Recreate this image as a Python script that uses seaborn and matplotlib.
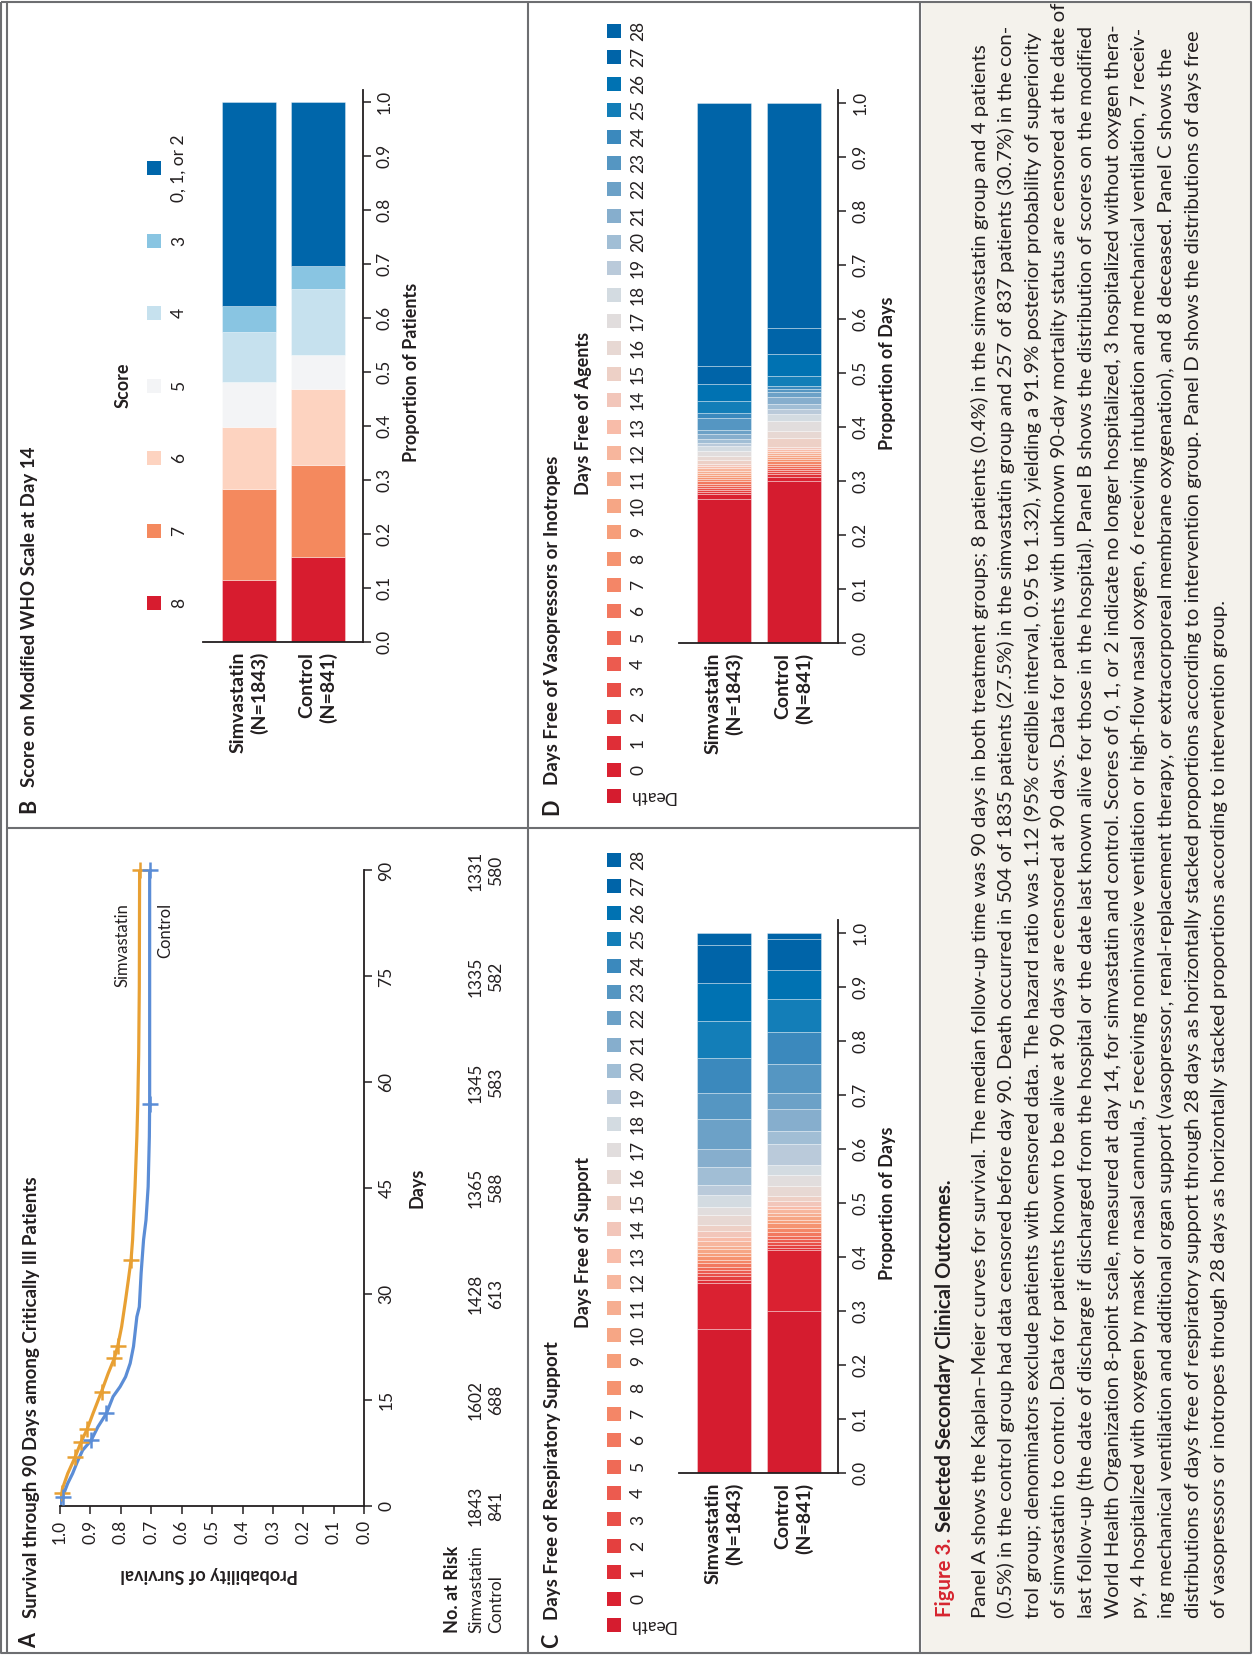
import numpy as np
import seaborn as sns
import matplotlib.pyplot as plt
from matplotlib.patches import Rectangle

# ---------------- data ----------------
groups = ["Simvastatin\n(N=1843)", "Control\n(N=841)"]

# A: Kaplan-Meier survival
sim_days = [0, 2.5, 4.6, 6.9, 9.1, 10.9, 13.1, 16.2, 18.8, 20.9, 22.6, 25.4, 29.2, 32.0,
            34.9, 37.7, 40.5, 45.2, 52.3, 57, 64, 73.5, 90]
sim_surv = [1.0, 0.991, 0.974, 0.950, 0.930, 0.910, 0.891, 0.863, 0.841, 0.821, 0.810, 0.797,
            0.784, 0.775, 0.766, 0.761, 0.758, 0.753, 0.747, 0.744, 0.741, 0.739, 0.738]
ctl_days = [0, 1.3, 3.2, 4.6, 6.2, 7.9, 9.3, 11.2, 13.1, 15.5, 16.9, 18.3, 20.2, 22.6, 26.8,
            28.2, 33.0, 37.7, 40.5, 45.2, 52.3, 57, 73.5, 90]
ctl_surv = [1.0, 0.991, 0.974, 0.958, 0.943, 0.925, 0.897, 0.875, 0.847, 0.825, 0.802, 0.784,
            0.769, 0.758, 0.747, 0.739, 0.733, 0.725, 0.717, 0.710, 0.706, 0.705, 0.705, 0.705]
sim_censor = [1.8, 6.9, 9.1, 10.9, 16.2, 20.9, 22.6, 34.9, 90]
ctl_censor = [1.3, 9.3, 13.1, 57, 90]
risk_days = [0, 15, 30, 45, 60, 75, 90]
risk_sim = [1843, 1602, 1428, 1365, 1345, 1335, 1331]
risk_ctl = [841, 688, 613, 588, 583, 582, 580]

# B: WHO scale at day 14 (bottom to top)
who_scores = ["8", "7", "6", "5", "4", "3", "0, 1, or 2"]
who_sim = [0.115, 0.168, 0.115, 0.083, 0.093, 0.048, 0.378]
who_ctl = [0.157, 0.171, 0.140, 0.063, 0.123, 0.042, 0.304]
who_colors = ["#D71C2F", "#F4895E", "#FDD3C0", "#F3F4F6", "#C6E1EE", "#89C5E2", "#0066AA"]

# C and D: days free, Death then 0..28
day_levels = ["Death"] + [str(d) for d in range(29)]
resp_sim = [0.266, 0.086, 0.006, 0.006, 0.006, 0.006, 0.006, 0.006, 0.007, 0.006, 0.006,
            0.007, 0.007, 0.008, 0.008, 0.010, 0.012, 0.019, 0.015, 0.022, 0.018, 0.034,
            0.033, 0.055, 0.048, 0.065, 0.068, 0.071, 0.071, 0.022]
resp_ctl = [0.300, 0.113, 0.004, 0.005, 0.005, 0.006, 0.006, 0.007, 0.008, 0.008, 0.007,
            0.006, 0.006, 0.007, 0.007, 0.008, 0.009, 0.020, 0.019, 0.019, 0.039, 0.024,
            0.040, 0.030, 0.054, 0.059, 0.062, 0.053, 0.058, 0.011]
vaso_sim = [0.266, 0.009, 0.004, 0.004, 0.004, 0.004, 0.004, 0.004, 0.004, 0.004, 0.004,
            0.004, 0.004, 0.004, 0.004, 0.004, 0.007, 0.009, 0.009, 0.009, 0.006, 0.006,
            0.009, 0.009, 0.021, 0.009, 0.023, 0.031, 0.034, 0.487]
vaso_ctl = [0.299, 0.009, 0.004, 0.004, 0.004, 0.004, 0.004, 0.004, 0.004, 0.004, 0.004,
            0.004, 0.003, 0.004, 0.004, 0.003, 0.018, 0.012, 0.018, 0.013, 0.010, 0.010,
            0.012, 0.009, 0.006, 0.006, 0.018, 0.040, 0.049, 0.417]
day_colors = ["#D51C2F", "#DA2131", "#DF2E37", "#E4403F", "#E94F48", "#EC5B4F", "#EF6A56",
              "#F2785F", "#F48667", "#F59370", "#F69E7A", "#F6A685", "#F6AE91", "#F7B69D",
              "#F8BCA9", "#F2C6BA", "#EDD0C6", "#E7D8D3", "#E1DDDD", "#D3DBE1", "#BACADA",
              "#A1BED5", "#86AECD", "#6CA1C7", "#5596C2", "#3B89BD", "#137EB8", "#0072B2",
              "#0064A8", "#0064A8"][:30]

caption_title = "Selected Secondary Clinical Outcomes."
caption_lines = [
    "Panel A shows the Kaplan\u2013Meier curves for survival. The median follow-up time was 90 days in both treatment groups; 8 patients (0.4%) in the simvastatin group and 4 patients",
    "(0.5%) in the control group had data censored before day 90. Death occurred in 504 of 1835 patients (27.5%) in the simvastatin group and 257 of 837 patients (30.7%) in the con-",
    "trol group; denominators exclude patients with censored data. The hazard ratio was 1.12 (95% credible interval, 0.95 to 1.32), yielding a 91.9% posterior probability of superiority",
    "of simvastatin to control. Data for patients known to be alive at 90 days are censored at 90 days. Data for patients with unknown 90-day mortality status are censored at the date of",
    "last follow-up (the date of discharge if discharged from the hospital or the date last known alive for those in the hospital). Panel B shows the distribution of scores on the modified",
    "World Health Organization 8-point scale, measured at day 14, for simvastatin and control. Scores of 0, 1, or 2 indicate no longer hospitalized, 3 hospitalized without oxygen thera-",
    "py, 4 hospitalized with oxygen by mask or nasal cannula, 5 receiving noninvasive ventilation or high-flow nasal oxygen, 6 receiving intubation and mechanical ventilation, 7 receiv-",
    "ing mechanical ventilation and additional organ support (vasopressor, renal-replacement therapy, or extracorporeal membrane oxygenation), and 8 deceased. Panel C shows the",
    "distributions of days free of respiratory support through 28 days as horizontally stacked proportions according to intervention group. Panel D shows the distributions of days free",
    "of vasopressors or inotropes through 28 days as horizontally stacked proportions according to intervention group.",
]

# ---------------- figure ----------------
sns.set_theme(style="ticks")
plt.rcParams["font.family"] = ["Lato", "DejaVu Sans"]
dark = "#231F20"
frame = "#6D6E71"
orange = "#E8A033"
blue = "#5B8DD6"

W, H = 1255, 1655
fig = plt.figure(figsize=(W / 100, H / 100), dpi=100)

# overlay axis in pixel coordinates (y down) for frame, legends and texts
ov = fig.add_axes([0, 0, 1, 1], zorder=0)
ov.set_xlim(0, W)
ov.set_ylim(H, 0)
ov.axis("off")


def px_axes(x0, y0, x1, y1):
    ax = fig.add_axes([x0 / W, 1 - y1 / H, (x1 - x0) / W, (y1 - y0) / H], zorder=2)
    ax.patch.set_alpha(0)
    return ax


def vtext(x, y, s, size, ha="left", va="center", weight="normal", color=dark, rot=90):
    return ov.text(x, y, s, rotation=rot, rotation_mode="anchor", ha=ha, va=va,
                   fontsize=size, fontweight=weight, color=color)


# caption background and frame
ov.add_patch(Rectangle((922, 3), 328, 1650, facecolor="#F4F2EC", edgecolor="none"))
fl = dict(color=frame, lw=1.5, solid_capstyle="butt")
ov.plot([1, 1251, 1251, 1, 1], [2, 2, 1653, 1653, 2], **fl)
ov.plot([7, 7], [2, 1653], **fl)
ov.plot([528, 528], [2, 1653], **fl)
ov.plot([920, 920], [2, 1653], **fl)
ov.plot([7, 920], [828, 828], **fl)

TICK = 12.5
LAB = 13


def style_prop_axis(ax, top, xl):
    ax.set_xlim(*xl)
    ax.set_ylim(0, top)
    ax.spines[["left", "top"]].set_visible(False)
    for s in ["right", "bottom"]:
        ax.spines[s].set_color(dark)
        ax.spines[s].set_linewidth(1.3)
    ax.yaxis.tick_right()
    ticks = np.round(np.arange(0, 1.01, 0.1), 1)
    ax.set_yticks(ticks)
    ax.set_yticklabels([f"{t:.1f}" for t in ticks], rotation=90, va="center")
    ax.tick_params(axis="y", length=6, width=1.1, pad=4, labelsize=TICK, colors=dark)
    ax.set_xticks([0, 1])
    ax.set_xticklabels(groups, rotation=90, ha="center", va="top", ma="right",
                       fontsize=14, fontweight="bold", color=dark, linespacing=1.25)
    ax.tick_params(axis="x", length=0, pad=7)
    ax.set_xlabel("")
    ax.set_ylabel("")
    ax.grid(False)


def stacked(ax, sim_vals, ctl_vals, colors, width):
    bottom = np.zeros(2)
    for s, c, col in zip(sim_vals, ctl_vals, colors):
        sns.barplot(x=groups, y=[s, c], bottom=bottom.copy(), color=col, saturation=1,
                    width=width, errorbar=None, edgecolor=(1, 1, 1, 0.4), linewidth=0.6,
                    ax=ax)
        bottom += np.array([s, c])


# ---------------- Panel A ----------------
axA = px_axes(59.8, 870.5, 364.4, 1506)
sns.lineplot(x=sim_surv, y=sim_days, sort=False, estimator=None, color=orange,
             linewidth=2.3, ax=axA)
sns.lineplot(x=ctl_surv, y=ctl_days, sort=False, estimator=None, color=blue,
             linewidth=2.3, ax=axA)
axA.scatter(np.interp(sim_censor, sim_days, sim_surv), sim_censor, marker="+", s=120,
            linewidths=1.8, color=orange, clip_on=False, zorder=3)
axA.scatter(np.interp(ctl_censor, ctl_days, ctl_surv), ctl_censor, marker="+", s=120,
            linewidths=1.8, color=blue, clip_on=False, zorder=4)
axA.set_xlim(1.0, 0.0)
axA.set_ylim(0, 90)
axA.spines[["left", "top"]].set_visible(False)
for s in ["right", "bottom"]:
    axA.spines[s].set_color(dark)
    axA.spines[s].set_linewidth(1.3)
axA.yaxis.tick_right()
axA.set_yticks(risk_days)
axA.set_yticklabels([str(d) for d in risk_days], rotation=90, va="center")
pt = np.round(np.arange(0, 1.01, 0.1), 1)
axA.set_xticks(pt)
axA.set_xticklabels([f"{t:.1f}" for t in pt], rotation=90, ha="center", va="top")
axA.tick_params(axis="both", length=6, width=1.1, pad=4, labelsize=TICK, colors=dark)
axA.set_xlabel("")
axA.set_ylabel("")
axA.grid(False)

day_px = (1506 - 870.5) / 90
vtext(123, 903, "Simvastatin", 12, ha="right")
vtext(165.6, 903, "Control", 12, ha="right")
vtext(417, 1188, "Days", LAB, ha="center", weight="bold")
vtext(209.6, 1574, "Probability of Survival", LAB, ha="center", weight="bold", rot=180)
vtext(452, 1633, "No. at Risk", LAB, weight="bold")
vtext(476, 1633, "Simvastatin", 12.5)
vtext(496, 1633, "Control", 12.5)
for d, a, b in zip(risk_days, risk_sim, risk_ctl):
    yy = 1506 - d * day_px
    vtext(476, yy, str(a), 12.5, ha="center")
    vtext(496, yy, str(b), 12.5, ha="center")
vtext(36.5, 1648, "A", 15.5, va="baseline", weight="bold")
vtext(36.5, 1618, "Survival through 90 Days among Critically Ill Patients", 13.5,
      va="baseline", weight="bold")

# ---------------- Panel B ----------------
axB = px_axes(202.8, 90, 363, 642)
stacked(axB, who_sim, who_ctl, who_colors, 0.772)
style_prop_axis(axB, (642 - 90) / 539.7, (-0.664, 1.648))
for i, (lab, col) in enumerate(zip(who_scores, who_colors)):
    yc = 603 - 72.5 * i
    ov.add_patch(Rectangle((147, yc - 7), 14, 14, facecolor=col, edgecolor="none"))
    vtext(179, yc, lab, TICK, ha="center")
vtext(123, 385, "Score", LAB, ha="center", weight="bold")
vtext(412, 372, "Proportion of Patients", LAB, ha="center", weight="bold")
vtext(35.5, 813, "B", 15.5, va="baseline", weight="bold")
vtext(35.5, 787, "Score on Modified WHO Scale at Day 14", 13.5, va="baseline", weight="bold")

# ---------------- Panels C and D ----------------
panels = [
    ("C", "Days Free of Respiratory Support", "Days Free of Support", resp_sim, resp_ctl,
     920, 1473, 1625, 1648, 1620),
    ("D", "Days Free of Vasopressors or Inotropes", "Days Free of Agents", vaso_sim, vaso_ctl,
     90, 643, 796, 815, 785),
]
for letter, title, legtitle, sv, cv, ytop, y0, leg0, ly, ty in panels:
    ax = px_axes(679.3, ytop, 838.3, y0)
    stacked(ax, sv, cv, day_colors, 0.763)
    style_prop_axis(ax, (y0 - ytop) / 540.3, (-0.639, 1.633))
    for i, (lab, col) in enumerate(zip(day_levels, day_colors)):
        yc = leg0 - 26.38 * i
        ov.add_patch(Rectangle((607, yc - 7), 14, 14, facecolor=col, edgecolor="none"))
        if lab == "Death":
            vtext(652, yc, lab, TICK, ha="center", rot=180)
        else:
            vtext(638, yc, lab, TICK, ha="center")
    vtext(583, leg0 - 26.38 * 14.5, legtitle, LAB, ha="center", weight="bold")
    vtext(888, y0 - 270, "Proportion of Days", LAB, ha="center", weight="bold")
    vtext(558, ly, letter, 15.5, va="baseline", weight="bold")
    vtext(558, ty, title, 13.5, va="baseline", weight="bold")

# ---------------- caption ----------------
renderer = fig.canvas.get_renderer()
probe = vtext(0, 0, caption_lines[0], 13.5)
cap_size = 13.5 * 1578 / probe.get_window_extent(renderer).height
probe.remove()
t1 = vtext(945, 1617, "Figure 3.", cap_size, weight="bold", color="#D6252F")
flen = t1.get_window_extent(renderer).height
vtext(945, 1617 - flen - 0.3 * cap_size * 1.389, caption_title, cap_size, weight="bold")
for i, line in enumerate(caption_lines):
    vtext(979.5 + 26.7 * i, 1618, line, cap_size)

fig.savefig("out.png", dpi=100)
